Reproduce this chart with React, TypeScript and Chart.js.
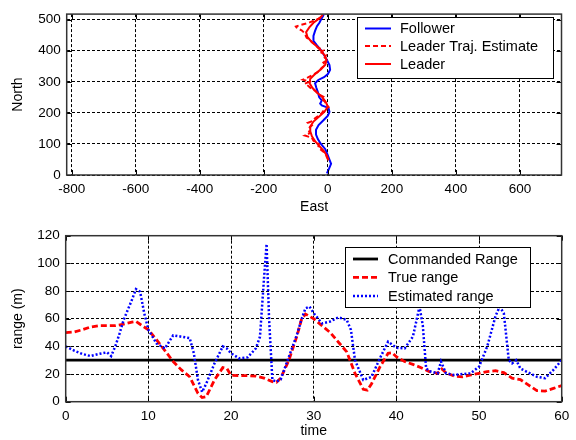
import React, { useEffect, useRef } from "react";
import { Chart, registerables } from "chart.js";

Chart.register(...registerables);

// ---------- Top chart: trajectories (East, North) ----------
const FOLLOWER_NORTH = [5, 21, 36, 52, 68, 83, 99, 115, 130, 146, 161, 177, 191, 203, 216, 224, 230, 240, 250, 266, 281, 295, 306, 315, 325, 339, 354, 370, 385, 401, 417, 432, 448, 464, 479, 491, 505, 516];
const FOLLOWER_EAST = [-3, 4, 10, 4, -2, -8, -21, -31, -37, -37, -29, -13, 0, 5, 2, -19, -24, -19, -27, -31, -36, -40, -30, -12, 0, 7, 5, -3, -11, -21, -34, -45, -45, -40, -34, -26, -19, -13];

const LEADER_NORTH = [47, 62, 78, 94, 109, 125, 141, 156, 172, 187, 203, 219, 234, 250, 265, 280, 295, 310, 325, 340, 355, 370, 385, 400, 415, 430, 445, 460, 475, 490, 505, 515];
const LEADER_EAST = [2, -3, -13, -27, -40, -50, -55, -55, -45, -29, -11, 0, -6, -17, -33, -48, -57, -55, -40, -22, -8, -4, -10, -21, -36, -52, -64, -68, -58, -45, -26, -16];

const ESTIMATE_NORTH = [50, 62, 75, 88, 100, 110, 120, 127, 135, 148, 160, 168, 175, 183, 192, 200, 210, 219, 228, 236, 245, 252, 262, 270, 278, 286, 294, 300, 307, 314, 322, 330, 338, 346, 354, 362, 370, 378, 386, 394, 402, 410, 418, 426, 434, 442, 450, 458, 466, 472, 478, 483, 490, 498, 506, 514];
const ESTIMATE_EAST = [0, -5, -14, -30, -28, -45, -50, -72, -56, -62, -50, -62, -45, -40, -27, -18, -12, 2, -6, -9, -20, -14, -32, -38, -52, -60, -72, -58, -78, -62, -48, -33, -26, -18, -8, -14, -2, -10, -6, -20, -14, -30, -38, -48, -55, -66, -70, -74, -82, -96, -100, -85, -60, -40, -24, -14];

const TOP_X_TICKS = [-800, -600, -400, -200, 0, 200, 400, 600];
const TOP_Y_TICKS = [0, 100, 200, 300, 400, 500];

// ---------- Bottom chart: range vs time ----------
const COMMANDED_TIME = [0, 60];
const COMMANDED_RANGE = [30, 30];

const TRUE_TIME = [0, 1, 2, 3, 4, 5, 6, 7, 8, 8.5, 9, 10, 11, 12, 13, 14, 15, 16, 16.5, 17, 18, 19, 19.5, 20, 21, 22, 23, 24, 25, 25.5, 26, 27, 28, 28.5, 29, 30, 31, 32, 33, 34, 35, 36, 36.5, 37, 38, 39, 39.5, 40, 41, 42, 43, 44, 45, 45.5, 46, 47, 48, 49, 50, 51, 52, 53, 54, 55, 56, 57, 58, 59, 60];
const TRUE_RANGE = [50, 50.4, 52, 54, 55, 55, 55, 56, 57.5, 58, 56, 52, 44.6, 37, 29, 23, 18, 6, 3, 3.6, 15.7, 24.6, 24, 19, 18.8, 18.8, 18.5, 17, 14.5, 14, 17, 30, 48, 59, 63.4, 60, 55, 50, 43, 36, 20.5, 9, 8.4, 13, 25, 35, 35.4, 32.5, 29, 27, 24.6, 21.7, 20.5, 23.6, 21, 18.5, 18, 19.3, 20.5, 21.7, 22.4, 21, 17, 16, 12, 8, 7.7, 9.6, 11.6];

const EST_TIME = [0, 1, 2, 3, 4, 5, 5.5, 6, 6.5, 7, 8, 8.5, 9, 9.5, 10, 11, 12, 13, 14, 15, 15.5, 16, 16.5, 17, 18, 19, 19.5, 20, 21, 22, 23, 23.5, 24, 24.3, 24.6, 25, 25.5, 26, 27, 28, 28.5, 29, 29.5, 30, 31, 32, 33, 34, 34.5, 35, 36, 37, 38, 39, 40, 41, 42, 42.8, 43.2, 43.6, 44, 45, 45.4, 46, 47, 48, 49, 50, 51, 52, 52.5, 53, 53.6, 54, 54.5, 55, 56, 57, 58, 59, 60];
const EST_RANGE = [40, 37, 34.5, 33, 34.5, 35.7, 33, 40, 49, 59, 73.5, 81.4, 79.5, 64, 52, 42, 38.5, 48, 47, 46, 35, 15.7, 7, 13, 27.7, 40, 38.5, 35, 31.3, 32, 38.5, 47, 90, 114, 60, 15.7, 14.5, 16, 32.5, 49, 59, 67.5, 68.7, 64, 56.6, 58, 61, 59, 52, 30, 15.7, 18, 31.3, 43.4, 39, 38.5, 47, 68.7, 55, 24, 22, 20.5, 29, 20.5, 19.3, 20, 20.5, 25.3, 40, 62, 68.7, 64, 30, 27.7, 30, 24, 21, 18, 17, 23, 30];

const BOTTOM_X_TICKS = [0, 10, 20, 30, 40, 50, 60];
const BOTTOM_Y_TICKS = [0, 20, 40, 60, 80, 100, 120];

const FONT = "'Liberation Sans', Arial, Helvetica, sans-serif";

type LegendItem = { label: string; color: string; width: number; dash: number[] };
type LegendLayout = { left: number; top: number; width: number; height: number; rows: number[]; lineX0: number; lineX1: number; textX: number };

function framePlugin(id: string, items: LegendItem[], lg: LegendLayout) {
  return {
    id,
    afterDraw(chart: any) {
      const { ctx, chartArea: a, scales } = chart;
      const xs = scales.x;
      const ys = scales.y;
      ctx.save();
      ctx.setLineDash([]);
      ctx.strokeStyle = "#000";
      ctx.lineWidth = 1;
      ctx.beginPath();
      for (const t of xs.ticks) {
        const px = Math.round(xs.getPixelForValue(t.value)) + 0.5;
        ctx.moveTo(px, a.bottom);
        ctx.lineTo(px, a.bottom - 5);
        ctx.moveTo(px, a.top);
        ctx.lineTo(px, a.top + 5);
      }
      for (const t of ys.ticks) {
        const py = Math.round(ys.getPixelForValue(t.value)) + 0.5;
        ctx.moveTo(a.left, py);
        ctx.lineTo(a.left + 5, py);
        ctx.moveTo(a.right, py);
        ctx.lineTo(a.right - 5, py);
      }
      ctx.stroke();
      // axes box
      ctx.strokeStyle = "#333";
      ctx.lineWidth = 1.5;
      ctx.strokeRect(a.left, a.top, a.right - a.left, a.bottom - a.top);
      // legend
      ctx.fillStyle = "#fff";
      ctx.fillRect(lg.left, lg.top, lg.width, lg.height);
      ctx.strokeStyle = "#000";
      ctx.lineWidth = 1;
      ctx.strokeRect(lg.left + 0.5, lg.top + 0.5, lg.width, lg.height);
      ctx.font = `14.5px ${FONT}`;
      ctx.textAlign = "left";
      ctx.textBaseline = "middle";
      items.forEach((it, i) => {
        const y = lg.rows[i];
        ctx.beginPath();
        ctx.setLineDash(it.dash);
        ctx.strokeStyle = it.color;
        ctx.lineWidth = it.width;
        ctx.moveTo(lg.lineX0, y);
        ctx.lineTo(lg.lineX1, y);
        ctx.stroke();
        ctx.setLineDash([]);
        ctx.fillStyle = "#000";
        ctx.fillText(it.label, lg.textX, y + 0.5);
      });
      ctx.restore();
    },
  };
}

function axisOpts(
  min: number,
  max: number,
  ticks: number[],
  title: string,
  horizontal: boolean,
  size: number,
  titlePad: any
) {
  return {
    type: "linear",
    min,
    max,
    afterBuildTicks: (s: any) => {
      s.ticks = ticks.map((v) => ({ value: v }));
    },
    afterFit: (s: any) => {
      if (horizontal) s.height = size;
      else s.width = size;
    },
    grid: { color: "#000", lineWidth: 1, drawTicks: false },
    border: { display: false, dash: [3, 2] },
    ticks: {
      padding: horizontal ? 6.5 : 6,
      color: "#000",
      font: { size: 13.5, family: FONT },
      maxRotation: 0,
      autoSkip: false,
    },
    title: {
      display: true,
      text: title,
      color: "#000",
      font: { size: 14, family: FONT },
      padding: titlePad,
    },
  };
}

function pts(xs: number[], ys: number[]) {
  return xs.map((x, i) => ({ x, y: ys[i] }));
}

export default function App() {
  const topRef = useRef<HTMLCanvasElement | null>(null);
  const botRef = useRef<HTMLCanvasElement | null>(null);

  useEffect(() => {
    const top = new Chart(topRef.current as HTMLCanvasElement, {
      type: "scatter",
      data: {
        datasets: [
          { label: "Leader", data: pts(LEADER_EAST, LEADER_NORTH), borderColor: "#ff0000", borderWidth: 2, showLine: true, pointRadius: 0, tension: 0 },
          { label: "Leader Traj. Estimate", data: pts(ESTIMATE_EAST, ESTIMATE_NORTH), borderColor: "#ff0000", borderWidth: 2, borderDash: [5, 3], showLine: true, pointRadius: 0, tension: 0 },
          { label: "Follower", data: pts(FOLLOWER_EAST, FOLLOWER_NORTH), borderColor: "#0000ff", borderWidth: 2, showLine: true, pointRadius: 0, tension: 0 },
        ],
      } as any,
      options: {
        responsive: false,
        animation: false,
        devicePixelRatio: 1,
        layout: { padding: { left: 0, top: 9.3, right: 14.5, bottom: 0 } },
        plugins: { legend: { display: false }, tooltip: { enabled: false } },
        scales: {
          x: axisOpts(-816, 730, TOP_X_TICKS, "East", true, 45, { top: 0, bottom: 4 }),
          y: axisOpts(0, 518, TOP_Y_TICKS, "North", false, 66.7, { top: 10, bottom: 0 }),
        } as any,
      } as any,
      plugins: [
        framePlugin(
          "frameTop",
          [
            { label: "Follower", color: "#0000ff", width: 2, dash: [] },
            { label: "Leader Traj. Estimate", color: "#ff0000", width: 2, dash: [5, 3] },
            { label: "Leader", color: "#ff0000", width: 2, dash: [] },
          ],
          { left: 357, top: 17, width: 196, height: 61, rows: [28.5, 46, 64], lineX0: 365, lineX1: 391, textX: 400 }
        ),
      ],
    });

    const bot = new Chart(botRef.current as HTMLCanvasElement, {
      type: "scatter",
      data: {
        datasets: [
          { label: "Estimated range", data: pts(EST_TIME, EST_RANGE), borderColor: "#0000ff", borderWidth: 2.5, borderDash: [2, 2], showLine: true, pointRadius: 0, tension: 0 },
          { label: "True range", data: pts(TRUE_TIME, TRUE_RANGE), borderColor: "#ff0000", borderWidth: 2.8, borderDash: [6, 3], showLine: true, pointRadius: 0, tension: 0 },
          { label: "Commanded Range", data: pts(COMMANDED_TIME, COMMANDED_RANGE), borderColor: "#000000", borderWidth: 2.8, showLine: true, pointRadius: 0, tension: 0 },
        ],
      } as any,
      options: {
        responsive: false,
        animation: false,
        devicePixelRatio: 1,
        layout: { padding: { left: 0, top: 15.7, right: 14.3, bottom: 0 } },
        plugins: { legend: { display: false }, tooltip: { enabled: false } },
        scales: {
          x: axisOpts(0, 60, BOTTOM_X_TICKS, "time", true, 38.3, { top: 0, bottom: 0 }),
          y: axisOpts(0, 120, BOTTOM_Y_TICKS, "range (m)", false, 65.7, { top: 10, bottom: 0 }),
        } as any,
      } as any,
      plugins: [
        framePlugin(
          "frameBottom",
          [
            { label: "Commanded Range", color: "#000000", width: 2.8, dash: [] },
            { label: "True range", color: "#ff0000", width: 2.8, dash: [6, 3] },
            { label: "Estimated range", color: "#0000ff", width: 2.5, dash: [2, 2] },
          ],
          { left: 345, top: 27, width: 185, height: 60, rows: [39, 57.3, 76], lineX0: 353, lineX1: 378, textX: 388 }
        ),
      ],
    });

    return () => {
      top.destroy();
      bot.destroy();
    };
  }, []);

  return (
    <div style={{ position: "fixed", left: 0, top: 0, width: 576, height: 440, background: "#fff" }}>
      <canvas ref={topRef} width={576} height={220} style={{ position: "absolute", left: 0, top: 0, width: 576, height: 220 }} />
      <canvas ref={botRef} width={576} height={220} style={{ position: "absolute", left: 0, top: 220, width: 576, height: 220 }} />
    </div>
  );
}
